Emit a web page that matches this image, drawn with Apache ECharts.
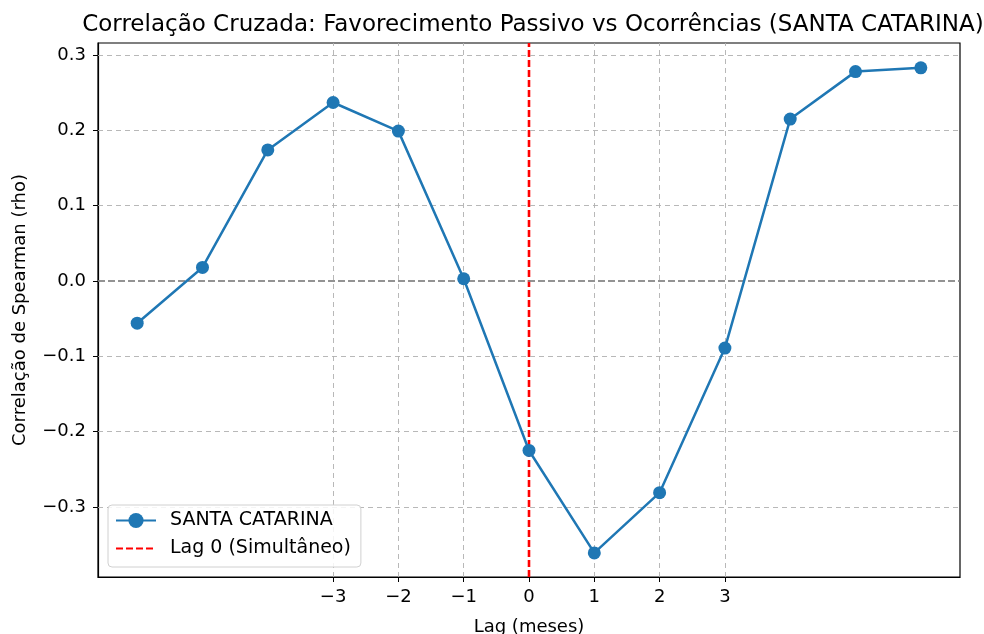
<!DOCTYPE html>
<html><head><meta charset="utf-8">
<script src="https://cdn.jsdelivr.net/npm/echarts@6/dist/echarts.min.js"></script>
<style>html,body{margin:0;padding:0;background:#fff}#c{width:984px;height:634px}</style>
</head><body><div id="c"></div>
<script>
const lags = [-6,-5,-4,-3,-2,-1,0,1,2,3,4,5,6];
const rho = [-0.056,0.018,0.174,0.237,0.199,0.003,-0.225,-0.361,-0.281,-0.089,0.215,0.278,0.283];
const xTicks = [-3,-2,-1,0,1,2,3];
const yTicks = [-0.3,-0.2,-0.1,0.0,0.1,0.2,0.3];
const xMin = -6.6, xMax = 6.6, yMin = -0.393, yMax = 0.316;
const FONT = 'DejaVu Sans';
const fmtY = v => { const s = Math.abs(v).toFixed(1); return (v < -1e-9 ? '\u2212' : '') + s; };
const fmtX = v => (v < 0 ? '\u2212' : '') + Math.abs(v);
const chart = echarts.init(document.getElementById('c'));
const gridStyle = {color:'#b0b0b0', type:[5,4], width:1, opacity:0.9};
chart.setOption({
  animation:false,
  textStyle:{fontFamily:FONT},
  title:{text:'Correlação Cruzada: Favorecimento Passivo vs Ocorrências (SANTA CATARINA)', left:528, top:9, textAlign:'center',
    textStyle:{fontFamily:FONT, fontSize:23, fontWeight:'normal', color:'#000'}},
  grid:{left:98, right:24, top:43, bottom:57, show:true, borderColor:'#000', borderWidth:1.2, backgroundColor:'transparent',
    outerBoundsMode:'none', containLabel:false},
  legend:{left:108, top:505, orient:'vertical', itemGap:9, itemWidth:40, itemHeight:19, z:20,
    backgroundColor:'rgba(255,255,255,0.85)', borderColor:'#d0d0d0', borderWidth:1, borderRadius:4, padding:[6,10,9,7],
    textStyle:{fontFamily:FONT, fontSize:19, color:'#000', padding:[0,0,0,9]},
    data:[{name:'SANTA CATARINA'},{name:'Lag 0 (Simultâneo)', itemStyle:{color:'rgba(0,0,0,0)', borderWidth:0}}]},
  xAxis:{type:'value', min:xMin, max:xMax, name:'Lag (meses)', nameLocation:'middle', nameGap:41, nameMoveOverlap:false,
    nameTextStyle:{fontFamily:FONT, fontSize:18, color:'#000'},
    axisLine:{show:true, onZero:false, lineStyle:{color:'#000', width:1.2}},
    axisTick:{show:true, customValues:xTicks, length:5, inside:false, lineStyle:{color:'#000'}},
    axisLabel:{customValues:xTicks, formatter:fmtX, fontFamily:FONT, fontSize:18, color:'#000', margin:11},
    splitLine:{show:false}},
  yAxis:{type:'value', min:yMin, max:yMax, name:'Correlação de Spearman (rho)', nameLocation:'middle', nameGap:69, nameMoveOverlap:false,
    nameTextStyle:{fontFamily:FONT, fontSize:18, color:'#000'},
    axisLine:{show:true, onZero:false, lineStyle:{color:'#000', width:1.2}},
    axisTick:{show:true, customValues:yTicks, length:5, lineStyle:{color:'#000'}},
    axisLabel:{customValues:yTicks, formatter:fmtY, fontFamily:FONT, fontSize:18, color:'#000', margin:12},
    splitLine:{show:false}},
  series:[
    {name:'grid', type:'line', data:[], silent:true, z:1,
      markLine:{silent:true, symbol:'none', label:{show:false}, lineStyle:gridStyle,
        data:[...xTicks.filter(v=>v!==0).map(v=>({xAxis:v})), ...yTicks.filter(v=>Math.abs(v)>1e-9).map(v=>({yAxis:v}))]}},
    {name:'zero', type:'line', data:[], silent:true, z:2,
      markLine:{silent:true, symbol:'none', label:{show:false}, lineStyle:{color:'#808080', type:[7,3], width:1.8, opacity:0.85},
        data:[{yAxis:0}]}},
    {name:'SANTA CATARINA', type:'line', data:lags.map((l,i)=>[l,rho[i]]), z:5,
      symbol:'circle', symbolSize:13, color:'#1f77b4',
      lineStyle:{color:'#1f77b4', width:2.5}, itemStyle:{color:'#1f77b4'}},
    {name:'Lag 0 (Simultâneo)', type:'line', data:[[0,yMin],[0,yMax]], z:4, symbol:'circle', symbolSize:0, showSymbol:false, color:'#ff0000',
      lineStyle:{color:'#ff0000', width:2.6, type:[7,3]}}
  ]
});
</script></body></html>
